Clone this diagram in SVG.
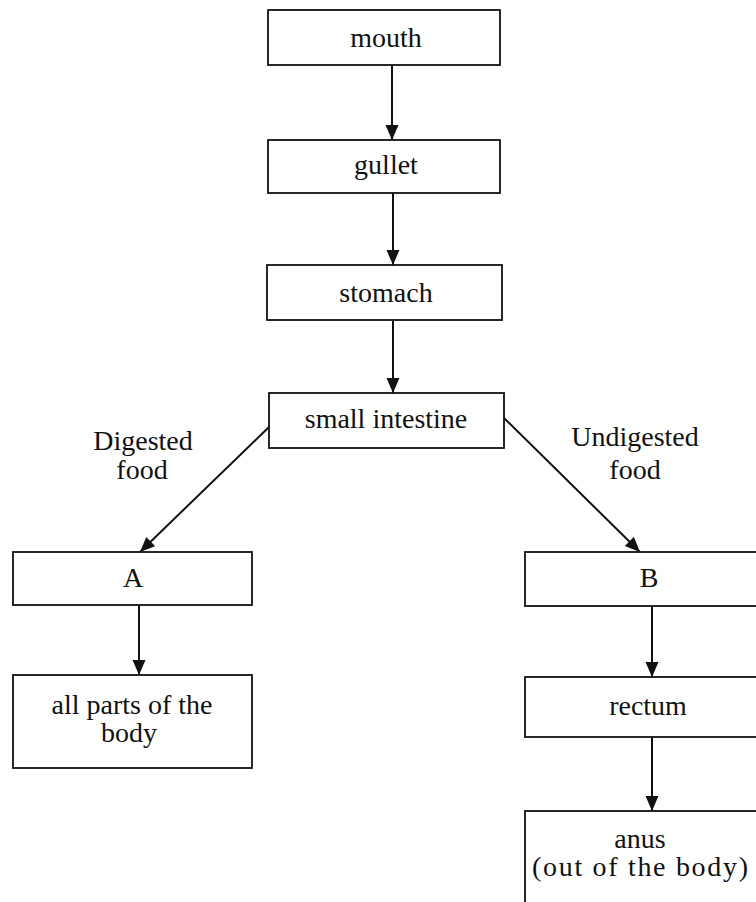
<svg xmlns="http://www.w3.org/2000/svg" width="756" height="902" viewBox="0 0 756 902">
<style>
.box{fill:#fff;stroke:#111;stroke-width:1.8}
.lbl{font-family:"Liberation Serif","Times New Roman",serif;font-size:28px;fill:#111;text-anchor:middle}
.con{stroke:#111;stroke-width:2;fill:none}
</style>
<defs>
<marker id="ah" markerUnits="userSpaceOnUse" markerWidth="16" markerHeight="14" refX="15" refY="6.5" orient="auto">
<path d="M0,0 L15,6.5 L0,13 z" fill="#111"/>
</marker>
</defs>
<rect width="756" height="902" fill="#fff"/>
<g id="connectors">
<line class="con" x1="392" y1="65" x2="392" y2="140" marker-end="url(#ah)"/>
<line class="con" x1="393" y1="193" x2="393" y2="265" marker-end="url(#ah)"/>
<line class="con" x1="393" y1="320" x2="393" y2="393" marker-end="url(#ah)"/>
<line class="con" x1="269" y1="427" x2="140" y2="552" marker-end="url(#ah)"/>
<line class="con" x1="504" y1="418" x2="640" y2="552" marker-end="url(#ah)"/>
<line class="con" x1="139" y1="605" x2="139" y2="675" marker-end="url(#ah)"/>
<line class="con" x1="652" y1="606" x2="652" y2="677" marker-end="url(#ah)"/>
<line class="con" x1="652" y1="737" x2="652" y2="811" marker-end="url(#ah)"/>
</g>
<g id="edge-labels">
<text class="lbl" x="143" y="450">Digested</text>
<text class="lbl" x="142" y="479">food</text>
<text class="lbl" x="635" y="446">Undigested</text>
<text class="lbl" x="635" y="479">food</text>
</g>
<g id="mouth"><rect class="box" x="268" y="10" width="232" height="55"/><text class="lbl" x="386" y="47">mouth</text></g>
<g id="gullet"><rect class="box" x="268" y="140" width="232" height="53"/><text class="lbl" x="386" y="174">gullet</text></g>
<g id="stomach"><rect class="box" x="267" y="265" width="235" height="55"/><text class="lbl" x="386" y="302">stomach</text></g>
<g id="small-intestine"><rect class="box" x="269" y="393" width="235" height="55"/><text class="lbl" x="386" y="428">small intestine</text></g>
<g id="A"><rect class="box" x="13" y="552" width="239" height="53"/><text class="lbl" x="133" y="587">A</text></g>
<g id="body"><rect class="box" x="13" y="675" width="239" height="93"/><text class="lbl" x="132" y="714">all parts of the</text><text class="lbl" x="129" y="742">body</text></g>
<g id="B"><rect class="box" x="525" y="552" width="240" height="54"/><text class="lbl" x="649" y="587">B</text></g>
<g id="rectum"><rect class="box" x="525" y="677" width="240" height="60"/><text class="lbl" x="648" y="715">rectum</text></g>
<g id="anus"><rect class="box" x="525" y="811" width="240" height="100"/><text class="lbl" x="640" y="848">anus</text><text class="lbl" x="640" y="876" textLength="216" lengthAdjust="spacing">(out of the body)</text></g>
</svg>
